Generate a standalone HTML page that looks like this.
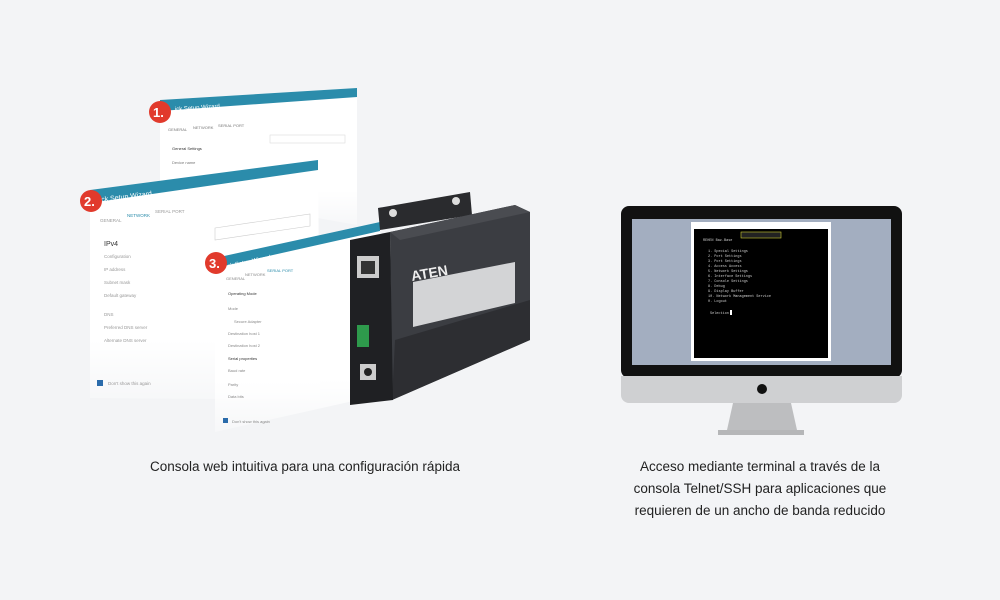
<!DOCTYPE html>
<html><head><meta charset="utf-8"><style>
body{margin:0;width:1000px;height:600px;background:#f3f4f6;overflow:hidden;position:relative;font-family:"Liberation Sans",sans-serif}
.cap{position:absolute;color:#222;font-size:13.5px;text-align:center;line-height:22px}
</style></head><body>
<svg width="1000" height="600" style="position:absolute;left:0;top:0">
<defs>
<linearGradient id="fade" x1="0" y1="0" x2="0" y2="1"><stop offset="0" stop-color="#fff"/><stop offset="0.75" stop-color="#fff"/><stop offset="1" stop-color="#fff" stop-opacity="0.3"/></linearGradient>
<linearGradient id="fadeh" x1="0" y1="0" x2="1" y2="0"><stop offset="0" stop-color="#fff"/><stop offset="1" stop-color="#f6f6f6"/></linearGradient>
</defs>
<!-- panel 1 -->
<polygon points="160,100 357,88 357,225 160,190" fill="url(#fade)"/>
<polygon points="160,100 357,88 357,97 160,111" fill="#2b8cab"/>
<text x="175" y="111" font-size="6" fill="#fff" transform="rotate(-4 175 111)">ick Setup Wizard</text>
<g font-size="4" fill="#777"><text x="168" y="131">GENERAL</text><text x="193" y="129">NETWORK</text><text x="218" y="127">SERIAL PORT</text><text x="172" y="150" fill="#333">General Settings</text><text x="172" y="164">Device name</text></g>
<rect x="270" y="135" width="75" height="8" fill="none" stroke="#ddd" stroke-width="0.6"/>
<!-- panel 2 -->
<polygon points="90,190 318,160 320,400 90,398" fill="url(#fade)"/>
<polygon points="90,190 318,160 318,170 90,203" fill="#2b8cab"/>
<text x="100" y="202" font-size="7" fill="#fff" transform="rotate(-7 100 202)">ick Setup Wizard</text>
<g font-size="4.5" fill="#999"><text x="100" y="222">GENERAL</text><text x="127" y="217" fill="#2b8cab">NETWORK</text><text x="155" y="213">SERIAL PORT</text>
<text x="104" y="246" font-size="7" fill="#333">IPv4</text><text x="104" y="258">Configuration</text><text x="104" y="271">IP address</text><text x="104" y="284">Subnet mask</text><text x="104" y="297">Default gateway</text><text x="104" y="316">DNS</text><text x="104" y="329">Preferred DNS server</text><text x="104" y="342">Alternate DNS server</text><text x="108" y="385">Don't show this again</text></g>
<rect x="97" y="380" width="6" height="6" fill="#2b6cab"/>
<polygon points="215,228 310,214 310,226 215,240" fill="#fff" stroke="#ccc" stroke-width="0.6"/>
<!-- panel 3 -->
<polygon points="215,258 380,222 380,395 215,432" fill="url(#fade)"/>
<polygon points="215,258 380,222 380,231 215,268" fill="#2b8cab"/>
<text x="228" y="268" font-size="6" fill="#fff" transform="rotate(-12 228 268)">ck Setup Wizard</text>
<g font-size="4" fill="#888"><text x="226" y="280">GENERAL</text><text x="245" y="276">NETWORK</text><text x="267" y="272" fill="#2b8cab">SERIAL PORT</text>
<text x="228" y="295" fill="#333">Operating Mode</text><text x="228" y="310">Mode</text><text x="234" y="323">Secure Adapter</text><text x="228" y="335">Destination host 1</text><text x="228" y="347">Destination host 2</text><text x="228" y="360" fill="#333">Serial properties</text><text x="228" y="372">Baud rate</text><text x="228" y="386">Parity</text><text x="228" y="398">Data bits</text><text x="232" y="423">Don't show this again</text></g>
<rect x="223" y="418" width="5" height="5" fill="#2b6cab"/>
<!-- badges -->
<g font-size="13" font-weight="bold" fill="#fff">
<circle cx="160" cy="112" r="11" fill="#e13a2c"/><text x="153" y="117">1.</text>
<circle cx="91" cy="201" r="11" fill="#e13a2c"/><text x="84" y="206">2.</text>
<circle cx="216" cy="263" r="11" fill="#e13a2c"/><text x="209" y="268">3.</text></g>
<!-- device -->
<polygon points="378,208 470,192 472,215 380,230" fill="#2a2b2e"/>
<circle cx="393" cy="213" r="4" fill="#ddd"/><circle cx="456" cy="201" r="4" fill="#ddd"/>
<polygon points="390,232 515,205 530,212 530,340 392,400" fill="#3b3d42"/>
<polygon points="390,232 515,205 530,212 400,240" fill="#4a4c51"/>
<polygon points="395,340 530,300 530,340 392,400" fill="#2d2e32"/>
<polygon points="350,240 390,232 393,400 350,405" fill="#1f2023"/>
<rect x="357" y="256" width="22" height="22" fill="#ccc"/><rect x="361" y="261" width="14" height="13" fill="#333"/>
<rect x="357" y="325" width="12" height="22" fill="#2e9a4c"/>
<rect x="360" y="364" width="16" height="16" fill="#ccc"/><circle cx="368" cy="372" r="4" fill="#222"/>
<polygon points="413,282 515,262 515,303 413,327" fill="#d3d4d6"/>
<text x="412" y="281" font-size="14" font-weight="bold" fill="#eee" transform="rotate(-10 412 281)">ATEN</text>
<!-- monitor -->
<rect x="621" y="206" width="281" height="172" rx="8" fill="#111"/>
<path d="M621,376 H902 V395 a8,8 0 0 1 -8,8 H629 a8,8 0 0 1 -8,-8Z" fill="#cfd0d2"/>
<rect x="632" y="219" width="259" height="146" fill="#a3aec0"/>
<rect x="691" y="222" width="140" height="139" fill="#fff"/>
<rect x="694" y="229" width="134" height="129" fill="#000"/>
<rect x="741" y="232" width="40" height="6" fill="#222" stroke="#cc3" stroke-width="0.6"/>
<g font-size="3.5" fill="#ccc" font-family="Liberation Mono"><text x="703" y="241">REHEN  Baz.Base</text>
<text x="708" y="252">1. Special Settings</text><text x="708" y="257">2. Port Settings</text><text x="708" y="262">3. Port Settings</text><text x="708" y="267">4. Access Access</text><text x="708" y="272">5. Network Settings</text><text x="708" y="277">6. Interface Settings</text><text x="708" y="282">7. Console Settings</text><text x="708" y="287">8. Debug</text><text x="708" y="292">9. Display Buffer</text><text x="708" y="297">10. Network Management Service</text><text x="708" y="302">0. Logout</text><text x="710" y="314">Selection</text></g>
<rect x="730" y="310" width="2" height="5" fill="#fff"/>
<circle cx="762" cy="389" r="5" fill="#111"/>
<polygon points="733,403 791,403 797,430 727,430" fill="#bdbec0"/>
<rect x="718" y="430" width="86" height="5" fill="#b5b6b8"/>
</svg>
<div class="cap" style="left:100px;top:456px;width:410px">Consola web intuitiva para una configuración rápida</div>
<div class="cap" style="left:600px;top:456px;width:320px">Acceso mediante terminal a través de la<br>consola Telnet/SSH para aplicaciones que<br>requieren de un ancho de banda reducido</div>
</body></html>
